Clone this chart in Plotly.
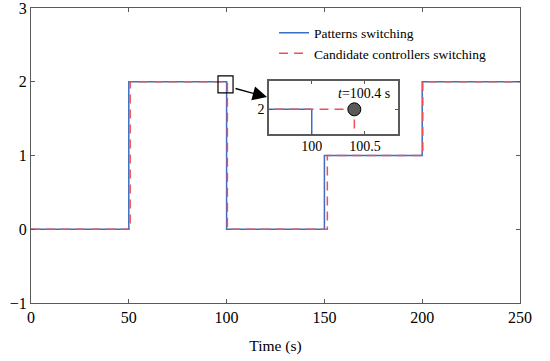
import plotly.graph_objects as go

# Data
pattern_t = [0, 50, 100, 150, 200, 250]
pattern_v = [0, 2, 0, 1, 2, 2]
ctrl_t = [0, 50.7, 100.4, 151.5, 200.3, 250]
ctrl_v = [0, 2, 0, 1, 2, 2]
switch_time = 100.4
switch_val = 2

x_ticks = [0, 50, 100, 150, 200, 250]
y_ticks = [-1, 0, 1, 2, 3]

blue = "rgb(60,110,195)"
red = "rgb(240,80,85)"
font = "Liberation Serif, Times New Roman, serif"
frame = "rgb(90,90,90)"

fig = go.Figure()
fig.add_trace(go.Scatter(x=pattern_t, y=pattern_v, mode="lines", line_shape="hv",
                         line=dict(color=blue, width=1.5), name="Patterns switching"))
fig.add_trace(go.Scatter(x=ctrl_t, y=ctrl_v, mode="lines", line_shape="hv",
                         line=dict(color=red, width=1.5, dash="9px,6px"),
                         name="Candidate controllers switching"))
# inset
fig.add_trace(go.Scatter(x=pattern_t, y=pattern_v, mode="lines", line_shape="hv",
                         line=dict(color=blue, width=1.5), showlegend=False,
                         xaxis="x2", yaxis="y2"))
fig.add_trace(go.Scatter(x=ctrl_t, y=ctrl_v, mode="lines", line_shape="hv",
                         line=dict(color=red, width=1.5, dash="9px,6px"), showlegend=False,
                         xaxis="x2", yaxis="y2"))
fig.add_trace(go.Scatter(x=[switch_time], y=[switch_val], mode="markers", showlegend=False,
                         marker=dict(size=13, color="rgb(90,90,90)", line=dict(color="black", width=1)),
                         xaxis="x2", yaxis="y2"))

axis_common = dict(showgrid=False, zeroline=False, showline=True, linecolor=frame, linewidth=1,
                   mirror="ticks", ticks="inside", ticklen=4, tickcolor=frame,
                   ticklabeloverflow="allow", automargin=False,
                   tickfont=dict(family=font, size=16, color="black"))

fig.update_layout(
    width=550, height=361,
    margin=dict(l=31, r=30, t=8, b=58),
    paper_bgcolor="white", plot_bgcolor="white",
    font=dict(family=font, color="black"),
    xaxis=dict(range=[0, 250], tickvals=x_ticks, domain=[0, 1],
               title=dict(text="Time (s)", font=dict(family=font, size=15.5), standoff=14),
               **axis_common),
    yaxis=dict(range=[-1, 3], tickvals=y_ticks, domain=[0, 1], **axis_common),
    xaxis2=dict(range=[99.6, 100.81], tickvals=[100, 100.5], ticktext=["100", "100.5"],
                domain=[0.487, 0.7505], anchor="y2", showgrid=False, zeroline=False,
                showline=True, linecolor=frame, linewidth=1.5, mirror="ticks", ticks="inside",
                ticklen=3, tickcolor=frame, ticklabelstandoff=-2,
                tickfont=dict(family=font, size=14, color="black")),
    yaxis2=dict(range=[1.9, 2.115], tickvals=[2], domain=[0.573, 0.7525], anchor="x2",
                showgrid=False, zeroline=False, showline=True, linecolor=frame, linewidth=1.5,
                mirror="ticks", ticks="inside", ticklen=3, tickcolor=frame,
                tickfont=dict(family=font, size=14, color="black")),
    legend=dict(x=0.497, y=0.968, xanchor="left", yanchor="top", bgcolor="rgba(0,0,0,0)",
                font=dict(family=font, size=13.5, color="black"), tracegroupgap=0),
    showlegend=True,
)

fig.add_shape(type="rect", xref="x", yref="y", x0=95.6, x1=103.3, y0=1.85, y1=2.08,
              line=dict(color="black", width=1.2))
fig.add_annotation(xref="paper", yref="paper", x=0.4826, y=0.698, ax=-33, ay=-9,
                   axref="pixel", ayref="pixel", text="", showarrow=True,
                   arrowhead=2, arrowsize=2.2, arrowwidth=1.3, arrowcolor="black")
fig.add_annotation(xref="x2", yref="y2", x=100.49, y=2.066, showarrow=False,
                   text="<i>t</i>=100.4 s", font=dict(family=font, size=14, color="black"))

fig.write_html("out.html")
